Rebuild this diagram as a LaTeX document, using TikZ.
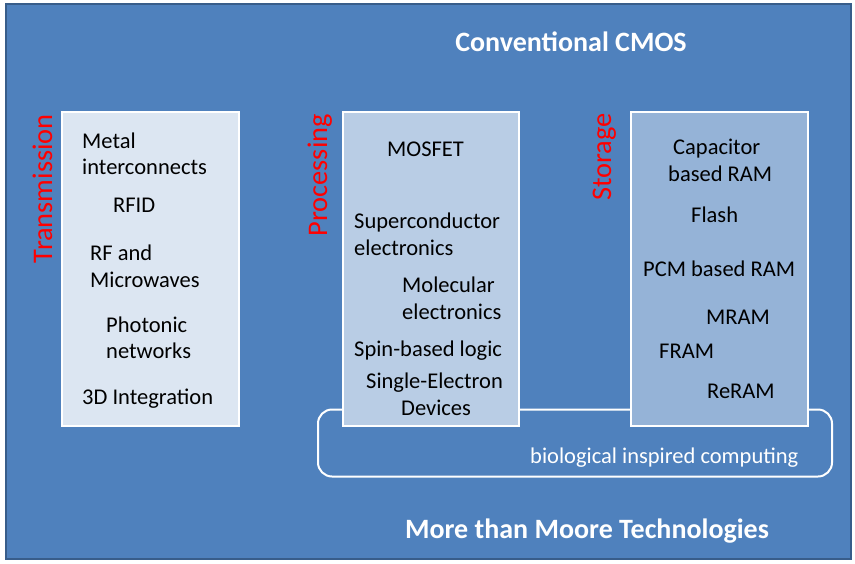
\documentclass[tikz,border=0pt]{standalone}
\usepackage{fontspec}
\setmainfont{Carlito}
\usetikzlibrary{positioning}
\definecolor{slideblue}{HTML}{4F81BD}
\definecolor{slideedge}{HTML}{385D8A}
\definecolor{paleblue}{HTML}{DCE6F2}
\definecolor{midblue}{HTML}{B9CDE5}
\definecolor{deepblue}{HTML}{95B3D7}

\begin{document}
\begin{tikzpicture}[x=1pt,y=-1pt,
  column/.style={draw=white, line width=1.5pt, inner sep=0pt, minimum height=314pt},
  entry/.style={anchor=base west, inner sep=0pt, font=\fontsize{22.5}{27}\selectfont},
  heading/.style={text=red, rotate=90, anchor=base east, inner sep=0pt, font=\fontsize{28.4}{30}\selectfont},
  banner/.style={text=white, anchor=base, inner sep=0pt, font=\bfseries\fontsize{28}{32}\selectfont}]
\useasboundingbox (0,0) rectangle (855,563);

% slide background
\draw [fill=slideblue, draw=slideedge, line width=2pt] (6,4) rectangle (851,559);

\node [banner] (cmos) at (571,51) {Conventional CMOS};
\node [banner] (moore) at (587,538) {More than Moore Technologies};

% bio computing frame, behind the columns
\node [draw=white, line width=2pt, rounded corners=14pt, minimum width=514pt, minimum height=67pt, inner sep=0pt] (bio) at (575,443) {};
\node [entry, text=white] (biotext) at (530,463) {biological inspired computing};

% the three columns
\node [column, fill=paleblue, minimum width=177pt] (trans) at (150.5,269) {};
\node [column, fill=midblue, minimum width=176pt] (proc) at (431,269) {};
\node [column, fill=deepblue, minimum width=177pt] (stor) at (719.5,269) {};

\node [heading] (transhead) at (52,114) {Transmission};
\node [heading] (prochead) at (327,114) {Processing};
\node [heading] (storhead) at (611,113) {Storage};

% transmission
\node [entry] (metal) at (82,148) {Metal};
\node [entry] (inter) at (82,174) {interconnects};
\node [entry] (rfid) at (113,212) {RFID};
\node [entry] (rfand) at (90,260) {RF and};
\node [entry] (micro) at (90,287) {Microwaves};
\node [entry] (photo) at (106,332) {Photonic};
\node [entry] (netw) at (106,358) {networks};
\node [entry] (threed) at (82,404) {3D Integration};

% processing
\node [entry] (mosfet) at (387,156) {MOSFET};
\node [entry] (super) at (354,228) {Superconductor};
\node [entry] (superel) at (354,255) {electronics};
\node [entry] (molec) at (402,292) {Molecular};
\node [entry] (molecel) at (402,319) {electronics};
\node [entry] (spin) at (354,356) {Spin-based logic};
\node [entry] (single) at (366,388) {Single-Electron};
\node [entry] (devices) at (401,415) {Devices};

% storage
\node [entry] (capac) at (673,154) {Capacitor};
\node [entry] (capram) at (668,181) {based RAM};
\node [entry] (flash) at (691,222) {Flash};
\node [entry] (pcm) at (643,276) {PCM based RAM};
\node [entry] (mram) at (706,324) {MRAM};
\node [entry] (fram) at (659,358) {FRAM};
\node [entry] (reram) at (707,398) {ReRAM};
\end{tikzpicture}
\end{document}
